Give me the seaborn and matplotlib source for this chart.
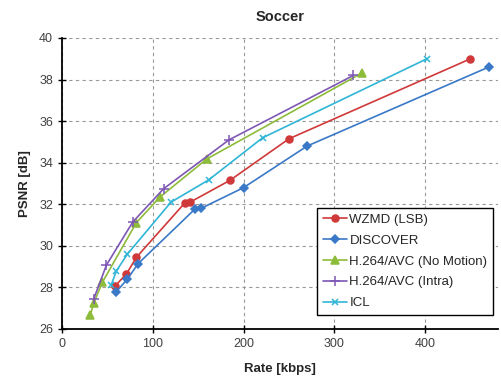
import pandas as pd
import numpy as np
import matplotlib.pyplot as plt
import seaborn as sns

# rate [kbps] / psnr [dB]
wzmd_rate = [58, 71, 82, 135, 141, 185, 250, 450]
wzmd_psnr = [28.05, 28.65, 29.45, 32.05, 32.1, 33.15, 35.15, 39.0]

disc_rate = [60, 72, 84, 146, 153, 200, 270, 470]
disc_psnr = [27.8, 28.4, 29.15, 31.75, 31.8, 32.8, 34.8, 38.6]

h264nm_rate = [31, 35, 44.5, 82, 108, 159.5, 331]
h264nm_psnr = [26.65, 27.25, 28.25, 31.12, 32.35, 34.18, 38.33]

h264i_rate = [35, 49, 78, 112, 184, 321]
h264i_psnr = [27.45, 29.08, 31.15, 32.75, 35.1, 38.2]

icl_rate = [54, 60, 72, 120, 161.5, 221, 402]
icl_psnr = [28.1, 28.8, 29.6, 32.1, 33.17, 35.2, 39.0]

series = [
    ('WZMD (LSB)', wzmd_rate, wzmd_psnr, '#D0393A', 'o', 5),
    ('DISCOVER', disc_rate, disc_psnr, '#3A78C8', 'D', 4),
    ('H.264/AVC (No Motion)', h264nm_rate, h264nm_psnr, '#8DBB3A', '^', 5.5),
    ('H.264/AVC (Intra)', h264i_rate, h264i_psnr, '#7E57B5', '+', 7),
    ('ICL', icl_rate, icl_psnr, '#2FB5D6', 'x', 4.5),
]

sns.set_style('white')
plt.rcParams['font.family'] = ['Liberation Sans', 'DejaVu Sans']

fig = plt.figure(figsize=(5.02, 3.81), dpi=100)
ax = fig.add_axes([0.1235, 0.1365, 0.868, 0.7638])

for name, xs, ys, col, mk, ms in series:
    df = pd.DataFrame({'rate': xs, 'psnr': ys})
    sns.lineplot(data=df, x='rate', y='psnr', ax=ax, sort=False, color=col,
                 marker=mk, markersize=ms, markeredgecolor=col, markeredgewidth=1.1,
                 linewidth=1.2, label=name)

ax.set_xlim(0, 480)
ax.set_ylim(26, 40)
ax.set_xticks([0, 100, 200, 300, 400])
ax.set_yticks(np.arange(26, 41, 2))
ax.grid(True, linestyle=(0, (3, 3)), color='#999999', linewidth=0.8)
for s in ['top', 'right']:
    ax.spines[s].set_visible(False)
for s in ['left', 'bottom']:
    ax.spines[s].set_color('black')
    ax.spines[s].set_linewidth(1.3)
ax.tick_params(axis='both', direction='inout', length=6, width=1, colors='black',
               labelsize=9, labelcolor='#404040', left=True, bottom=True)
ax.set_xlabel('Rate [kbps]', fontsize=9.5, fontweight='bold', labelpad=9)
ax.set_ylabel('PSNR [dB]', fontsize=9.5, fontweight='bold', labelpad=6)
ax.set_title('Soccer', fontsize=10.5, fontweight='bold', pad=12)

leg = ax.legend(loc='lower right', bbox_to_anchor=(1.005, 0.025), fontsize=9.5,
                frameon=True, fancybox=False, edgecolor='black', framealpha=1,
                handlelength=1.8, handletextpad=0.2, borderpad=0.45, labelspacing=0.65)
leg.get_frame().set_linewidth(1.0)

fig.savefig('out.png', dpi=100)
